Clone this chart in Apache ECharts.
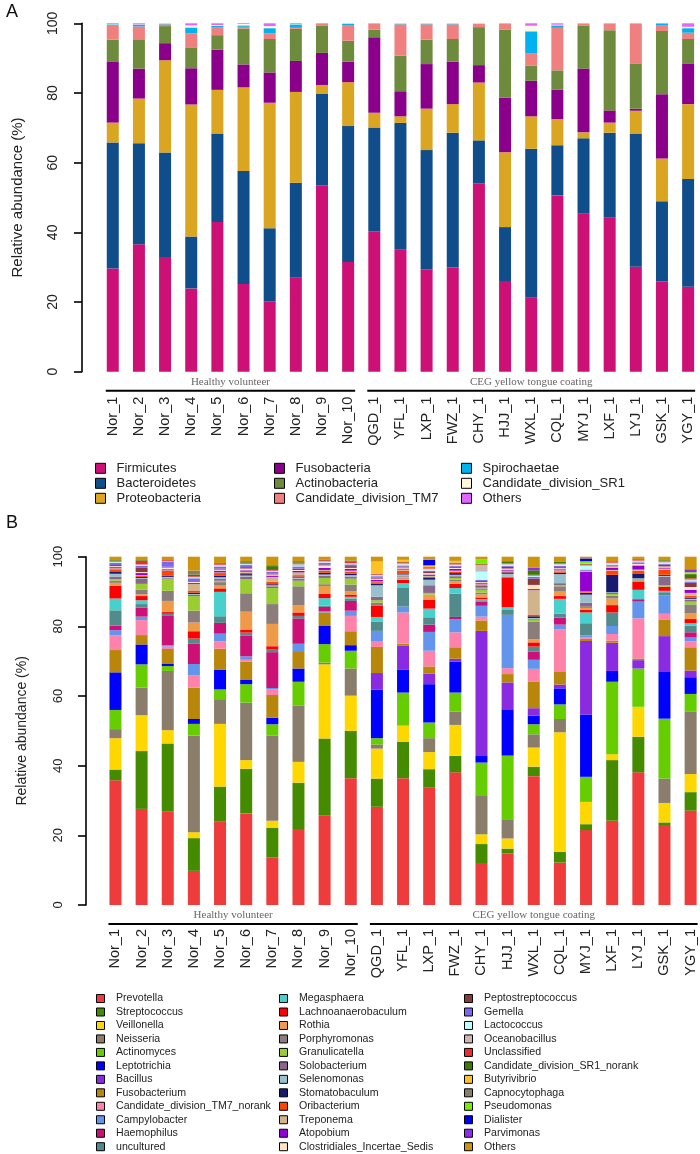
<!DOCTYPE html>
<html><head><meta charset="utf-8">
<script src="https://cdn.jsdelivr.net/npm/echarts@6/dist/echarts.min.js"></script>
<style>html,body{margin:0;padding:0;background:#fff}#c{width:700px;height:1154px}</style>
</head><body><div id="c"></div>
<script>
// ---------- DATA ----------
const categories = ['Nor_1','Nor_2','Nor_3','Nor_4','Nor_5','Nor_6','Nor_7','Nor_8','Nor_9','Nor_10',
  'QGD_1','YFL_1','LXP_1','FWZ_1','CHY_1','HJJ_1','WXL_1','CQL_1','MYJ_1','LXF_1','LYJ_1','GSK_1','YGY_1'];
const groupNames = ['Healthy volunteer','CEG yellow tongue coating'];
const groupFirst = ['Nor_1','QGD_1'];
const groupLast = ['Nor_10','YGY_1'];

// Panel A (phylum level, %)
const firmicutes     = [29.6,36.6,32.9,23.9,43.0,25.2,20.2,27.0,53.5,31.5,40.3,35.0,29.4,29.9,54.0,26.0,21.2,50.6,45.3,44.2,30.1,25.9,24.4];
const bacteroidetes  = [36.2,29.0,30.0,14.9,25.4,32.4,21.0,27.2,26.2,39.0,29.8,36.4,34.2,38.7,12.4,15.5,42.8,14.4,21.7,24.4,38.3,23.0,30.9];
const proteobacteria = [5.7,12.8,26.5,37.9,12.5,24.0,36.0,26.1,2.6,12.6,4.2,1.9,11.9,8.2,16.6,21.5,9.3,7.5,1.7,2.9,6.5,12.3,21.5];
const fusobacteria   = [17.4,8.6,4.9,10.4,11.5,6.6,8.7,8.9,9.2,5.9,21.7,7.2,12.8,12.2,5.0,15.7,10.2,8.5,18.3,3.5,0.6,18.4,11.7];
const actinobacteria = [6.4,8.2,4.9,6.0,4.2,10.3,9.6,9.2,7.9,6.0,2.2,10.2,7.0,6.5,10.9,19.5,4.3,5.5,12.4,23.0,13.0,18.2,7.0];
const tm7            = [4.2,3.9,0.5,4.0,2.3,0.5,1.6,0.3,0.4,4.5,1.7,9.0,4.4,4.2,0.9,1.7,3.5,12.2,0.5,1.9,11.4,1.7,1.8];
const spirochaetae   = [0.2,0.5,0.1,1.7,0.4,0.4,1.5,1.0,0.1,0.3,0,0.1,0.1,0.1,0,0,6.4,0.7,0,0,0,0.3,1.3];
const sr1            = [0.1,0.1,0.1,0.6,0.2,0.4,0.6,0.1,0,0.1,0,0.1,0.1,0.1,0.1,0,1.6,0.2,0,0,0,0,0.4];
const othersA        = [0.2,0.3,0.1,0.6,0.5,0.2,0.8,0.2,0.1,0.1,0.1,0.1,0.1,0.1,0.1,0.1,0.7,0.4,0.1,0.1,0.1,0.2,1.0];

// Panel B (genus level, %)
const prevotella     = [35.8,27.6,26.8,9.8,23.9,26.3,13.6,21.8,25.8,36.4,28.2,36.4,33.7,38.1,11.8,14.8,37.0,12.2,21.5,24.2,38.1,22.7,27.1];
const streptococcus  = [3.1,16.6,19.6,9.4,10.1,12.8,8.6,13.3,22.0,13.6,8.1,10.5,5.3,4.7,5.7,1.4,2.7,3.1,1.7,17.4,10.2,1.0,5.3];
const veillonella    = [9.0,10.3,3.8,1.7,18.0,2.5,2.0,6.0,21.3,10.1,8.6,4.6,4.9,8.9,2.8,2.9,5.5,34.3,6.4,1.7,8.6,5.6,5.2];
const neisseria      = [2.6,7.9,17.0,27.8,7.1,16.5,24.4,16.1,0.5,7.8,1.2,0,4.0,3.8,11.0,5.3,3.8,3.8,0,0,0,7.0,18.0];
const actinomyces    = [5.5,6.7,1.4,3.3,2.8,5.3,3.3,6.9,5.3,5.1,1.8,9.5,4.5,5.5,9.6,18.5,2.9,4.2,7.2,20.8,11.0,17.2,5.0];
const leptotrichia   = [10.8,5.7,0.6,1.4,5.7,1.2,1.9,3.8,5.2,1.6,13.9,6.5,11.0,8.9,1.9,13.3,2.5,4.6,17.9,3.1,0,13.6,4.8];
const bacillus       = [0,0,0,0,0,0,0,0,0,0,4.8,6.9,3.0,0.8,35.9,7.7,2.1,1.1,21.1,8.1,2.4,10.1,1.9];
const fusobacterium  = [6.4,2.7,4.3,9.0,6.0,5.3,6.5,5.0,3.9,4.0,7.5,0.6,2.1,3.3,3.0,2.4,7.7,3.8,0.6,0.6,0.5,4.8,6.7];
const tm7Norank      = [4.2,4.3,0.7,3.6,2.1,0.5,1.7,0,0,4.4,1.7,9.0,4.5,4.3,1.1,1.7,3.6,12.1,0.5,1.9,11.5,1.6,1.7];
const campylobacter  = [1.5,1.0,0.4,3.2,2.2,1.0,0.3,2.1,0.3,1.5,2.9,1.7,5.4,3.8,3.1,15.3,2.6,1.3,0.5,2.3,4.8,5.3,1.1];
const haemophilus    = [1.3,2.6,8.4,5.9,3.1,6.0,10.3,7.3,1.3,2.8,0,0,2.1,0.6,1.2,0,2.4,2.0,0,0,0.7,0,1.5];
const uncultured     = [4.4,1.0,0.6,1.4,1.9,0.8,0.9,0.7,0.3,0.7,2.6,5.5,2.1,6.7,0.4,1.4,1.4,1.1,3.5,3.9,0,0.9,1.9];
const megasphaera    = [3.4,1.1,0,0,7.0,0,0,0,2.2,0.5,1.4,1.2,2.5,1.6,0.3,0.8,0,4.3,3.1,0,2.7,0.4,0.7];
const lachno         = [3.6,1.2,0.5,2.1,1.0,0.9,0.8,1.0,1.3,0.5,3.3,1.0,2.6,1.2,0.5,8.5,1.2,0.8,0.8,2.1,2.4,1.2,1.2];
const rothia         = [0.9,0.5,3.2,2.5,0.8,5.1,6.4,2.0,2.2,1.1,0,0.3,1.4,0.7,0.9,0,0.9,1.3,0.5,1.9,0,0,1.6];
const porphyromonas  = [0.6,1.3,2.9,3.4,1.0,5.3,5.7,5.5,0.5,1.9,0.8,0.3,0,0.5,0.5,0,5.1,1.5,0.5,0.8,0,0,2.6];
const granulicatella = [0.4,1.7,3.5,4.2,0.4,4.0,4.6,1.6,1.8,1.7,0.7,0.3,0.5,0.5,0.8,0,0.5,0.3,0,0.5,0.3,0.4,0.8];
const solobacterium  = [0.8,1.4,0.3,0.3,0.6,0.8,0.5,0.6,0.6,0.6,1.0,0.3,2.2,0.5,0.4,0.3,0.2,0.6,1.0,0.3,0.3,2.4,0.5];
const selenomonas    = [0.8,0.3,0.2,0.3,0.4,0.3,0.3,0.3,0.4,0.4,3.3,0.3,1.6,0.4,0.3,0.8,0.3,2.6,2.3,0.2,0.3,0.3,0.3];
const stomatobaculum = [0.5,0.3,0.3,0.4,0.5,0.4,0.3,0.3,0.5,0.4,0.5,0.3,0.5,0.5,0.3,0.4,0.5,0.4,0.5,5.0,1.4,0.3,0.3];
const oribacterium   = [0.8,0.3,1.4,0.6,0.7,0.4,0.7,0.4,0.5,0.6,0.4,0.8,0.3,0.4,0.3,0.3,0.5,0.4,0.2,1.2,0.8,1.5,0.6];
const treponema      = [0.3,0.2,0.2,1.9,0.2,0.3,1.4,0.8,0.3,0.3,0.2,0.3,0.3,0.3,0.3,0.2,7.0,0.3,0.2,0.2,0.3,0.3,0.8];
const atopobium      = [0.3,0.6,0.3,0.3,0.5,0.4,0.4,0.4,0.6,0.5,0.5,0.3,0.4,0.5,0.3,0.3,0.3,0.3,5.6,0.7,1.2,0.3,0.9];
const clostridiales  = [0.3,0.3,0.5,0.3,0.3,0.5,0.3,0.3,0.7,0.3,0.3,0.3,0.4,0.3,0.3,0.3,1.2,0.3,0.2,0.3,0.4,0.3,0.8];
const peptostrep     = [0.3,1.2,0.2,0.2,0.3,0.4,0.2,0.4,0.3,0.5,0.3,0.3,0.3,0.3,0.3,0.5,1.8,0.3,0.2,0.2,0.2,0.5,1.2];
const gemella        = [0.6,0.6,1.4,0.8,0.6,0.6,0.5,0.6,0.5,0.5,0.4,0.3,0.4,0.3,0.3,0.3,0.5,0.4,0.3,0.3,0.3,0.3,0.4];
const lactococcus    = [0.2,0.2,0,0.2,0.3,0.2,0.2,0.2,0.2,0.2,0.2,0.3,0.3,0.2,2.4,0.3,0.2,0.3,1.0,0.3,0.2,0.3,0.3];
const oceanobacillus = [0.2,0.2,0.2,0.2,0.2,0.2,0.2,0.6,0.2,0.2,0.2,0.3,0.3,0.2,1.9,0.3,0.2,0.3,0.3,0.3,0.3,0.3,0.3];
const unclassified   = [0.2,1.0,0.3,0.2,0.3,0.3,0.2,0.3,0.3,0.5,0.2,0.3,0.2,0.3,0.2,0.2,0.2,0.2,0.2,0.2,0.2,0.2,0.3];
const sr1Norank      = [0.2,0.2,0,0.5,0.2,0.4,1.1,0.4,0.2,0.2,0.1,0.2,0.2,0.2,0.2,0.5,1.3,0.3,0.2,0.2,0.2,0.2,1.2];
const butyrivibrio   = [0,0,0,0,0,0,0,0,0,0,3.5,0.5,0.5,0.5,0,0,0,0,0.2,0,0,0,0.3];
const capnocytophaga = [0,0,0,1.1,0,0,0.3,0,0,0,0,0,0,0,0,0,0,0,0,0,0,0,0.2];
const pseudomonas    = [0,0,0,0,0,0,0,0,0,0,0,0,0,0,1.2,0,0,0,0.5,0,0,0,0.2];
const dialister      = [0,0,0,0,0,0,0,0,0,0,0,0,1.6,0,0,0,0,0,0.8,0,0,0,0.2];
const parvimonas     = [0,0,0,0,0,0,0,0,0,0,0,0,0,0,0,0,0.7,0,0,0,0,0,0.5];
const othersB        = [1.0,1.0,1.0,4.0,1.8,1.3,2.4,1.3,0.8,1.1,1.4,0.9,0.9,1.2,0.8,1.3,3.2,1.5,0.5,1.3,0.7,1.2,3.6];

// ---------- SERIES DEFINITIONS ----------
const phylumNames = ['Firmicutes','Bacteroidetes','Proteobacteria','Fusobacteria','Actinobacteria',
  'Candidate_division_TM7','Spirochaetae','Candidate_division_SR1','Others'];
const phylumValues = [firmicutes,bacteroidetes,proteobacteria,fusobacteria,actinobacteria,tm7,spirochaetae,sr1,othersA];
const phylumColors = ['#CD1076','#104E8B','#DAA520','#8B008B','#6E8B3D','#F08080','#00B2EE','#FFF8DC','#E066FF'];

const genusNames = ['Prevotella','Streptococcus','Veillonella','Neisseria','Actinomyces','Leptotrichia','Bacillus',
  'Fusobacterium','Candidate_division_TM7_norank','Campylobacter','Haemophilus','uncultured',
  'Megasphaera','Lachnoanaerobaculum','Rothia','Porphyromonas','Granulicatella','Solobacterium','Selenomonas',
  'Stomatobaculum','Oribacterium','Treponema','Atopobium','Clostridiales_Incertae_Sedis',
  'Peptostreptococcus','Gemella','Lactococcus','Oceanobacillus','Unclassified','Candidate_division_SR1_norank',
  'Butyrivibrio','Capnocytophaga','Pseudomonas','Dialister','Parvimonas','Others'];
const genusValues = [prevotella,streptococcus,veillonella,neisseria,actinomyces,leptotrichia,bacillus,
  fusobacterium,tm7Norank,campylobacter,haemophilus,uncultured,
  megasphaera,lachno,rothia,porphyromonas,granulicatella,solobacterium,selenomonas,
  stomatobaculum,oribacterium,treponema,atopobium,clostridiales,
  peptostrep,gemella,lactococcus,oceanobacillus,unclassified,sr1Norank,
  butyrivibrio,capnocytophaga,pseudomonas,dialister,parvimonas,othersB];
const genusColors = ['#EE3B3B','#458B00','#FFD700','#8B7D6B','#66CD00','#0000FF','#8A2BE2',
  '#B8860B','#FF82AB','#6495ED','#CD1076','#528B8B',
  '#48D1CC','#FF0000','#EE9A49','#8B7D7B','#9ACD32','#8B668B','#9AC0CD',
  '#191970','#FF4500','#D2B48C','#9400D3','#FFE4C4',
  '#8B3A3A','#7B68EE','#BBFFFF','#CDB7B5','#EE2C2C','#3D7A05',
  '#FFC125','#8B7E66','#76EE00','#0000EE','#912CEE','#CD950C'];

// ---------- CHART ----------
const FONT = "'Liberation Sans', Arial, sans-serif";
const chart = echarts.init(document.getElementById('c'), null, {renderer: 'canvas'});

function yAxisDef(gi, offset, labelSize, nameSize, nameGap, margin) {
  return {
    type: 'value', gridIndex: gi, min: 0, max: 100, interval: 20, offset: offset,
    axisLine: {show: true, lineStyle: {color: '#000', width: 1.6}},
    axisTick: {show: true, length: 8, lineStyle: {color: '#000', width: 1.6}},
    splitLine: {show: false},
    axisLabel: {rotate: 90, margin: margin, fontSize: labelSize, color: '#222', fontFamily: FONT},
    name: 'Relative abundance (%)', nameLocation: 'middle', nameRotate: 90, nameGap: nameGap,
    nameTextStyle: {fontSize: nameSize, color: '#222', fontFamily: FONT}
  };
}
function xAxisDef(gi, margin) {
  return {
    type: 'category', gridIndex: gi, data: categories,
    axisLine: {show: false}, axisTick: {show: false}, splitLine: {show: false},
    axisLabel: {rotate: 90, interval: 0, margin: margin, fontSize: 14.5, color: '#222', fontFamily: FONT}
  };
}
function legendDef(names, colors, left, top, size, lineH, fontSize, pad) {
  return {
    orient: 'vertical', left: left, top: top, height: lineH * names.length + 20, padding: 0, itemGap: 0,
    itemWidth: size, itemHeight: size, icon: 'rect', selectedMode: false,
    data: names.map((n, i) => ({name: n, itemStyle: {color: colors[i], borderColor: '#000', borderWidth: 1}})),
    textStyle: {fontSize: fontSize, fontFamily: FONT, color: '#222', lineHeight: lineH, padding: [0, 0, 0, pad]}
  };
}

const series = [];
phylumNames.forEach((n, i) => series.push({
  name: n, type: 'bar', stack: 'A', xAxisIndex: 0, yAxisIndex: 0, barWidth: 12,
  data: phylumValues[i], itemStyle: {color: phylumColors[i]}, emphasis: {disabled: true}
}));
genusNames.forEach((n, i) => series.push({
  name: n, type: 'bar', stack: 'B', xAxisIndex: 1, yAxisIndex: 1, barWidth: 12,
  data: genusValues[i], itemStyle: {color: genusColors[i]}, emphasis: {disabled: true}
}));

const legends = [];
for (let c = 0; c < 3; c++) {
  legends.push(legendDef(phylumNames.slice(c*3, c*3+3), phylumColors.slice(c*3, c*3+3),
    [95, 274, 461][c], 460.8, 10, 15, 13, 6));
}
for (let c = 0; c < 3; c++) {
  legends.push(legendDef(genusNames.slice(c*12, c*12+12), genusColors.slice(c*12, c*12+12),
    [96, 279, 464][c], 991.8, 8, 13.47, 10.6, 6.5));
}

chart.setOption({
  animation: false,
  backgroundColor: '#fff',
  grid: [
    {left: 99.7, top: 23.3, width: 601.5, height: 348.4, containLabel: false, outerBoundsMode: 'none'},
    {left: 102.4, top: 556.7, width: 601.3, height: 348.3, containLabel: false, outerBoundsMode: 'none'}
  ],
  xAxis: [xAxisDef(0, 25), xAxisDef(1, 24)],
  yAxis: [yAxisDef(0, 17.7, 14, 15, 57, 22), yAxisDef(1, 16.4, 13, 14, 57, 21)],
  legend: legends,
  series: series
});

// group brackets under each panel, positioned from the axes
function groupGraphics(gi) {
  const els = [];
  const y0 = chart.convertToPixel({yAxisIndex: gi}, 0);
  for (let g = 0; g < groupNames.length; g++) {
    const xa = chart.convertToPixel({xAxisIndex: gi}, groupFirst[g]) - 7;
    const xb = chart.convertToPixel({xAxisIndex: gi}, groupLast[g]) + 7;
    const ly = y0 + 19;
    els.push({type: 'line', shape: {x1: xa, y1: ly, x2: xb, y2: ly}, style: {stroke: '#000', lineWidth: 2}, silent: true});
    els.push({type: 'text', x: (xa + xb) / 2, y: ly - 3,
      style: {text: groupNames[g], fill: '#666', font: "11px 'Liberation Serif', 'DejaVu Serif', serif",
        textAlign: 'center', textVerticalAlign: 'bottom'}, silent: true});
  }
  return els;
}
chart.setOption({
  graphic: [
    {type: 'text', left: 6, top: 3, style: {text: 'A', fill: '#111', font: "18px " + FONT}},
    {type: 'text', left: 6, top: 514, style: {text: 'B', fill: '#111', font: "18px " + FONT}}
  ].concat(groupGraphics(0), groupGraphics(1))
});
</script>
</body></html>
